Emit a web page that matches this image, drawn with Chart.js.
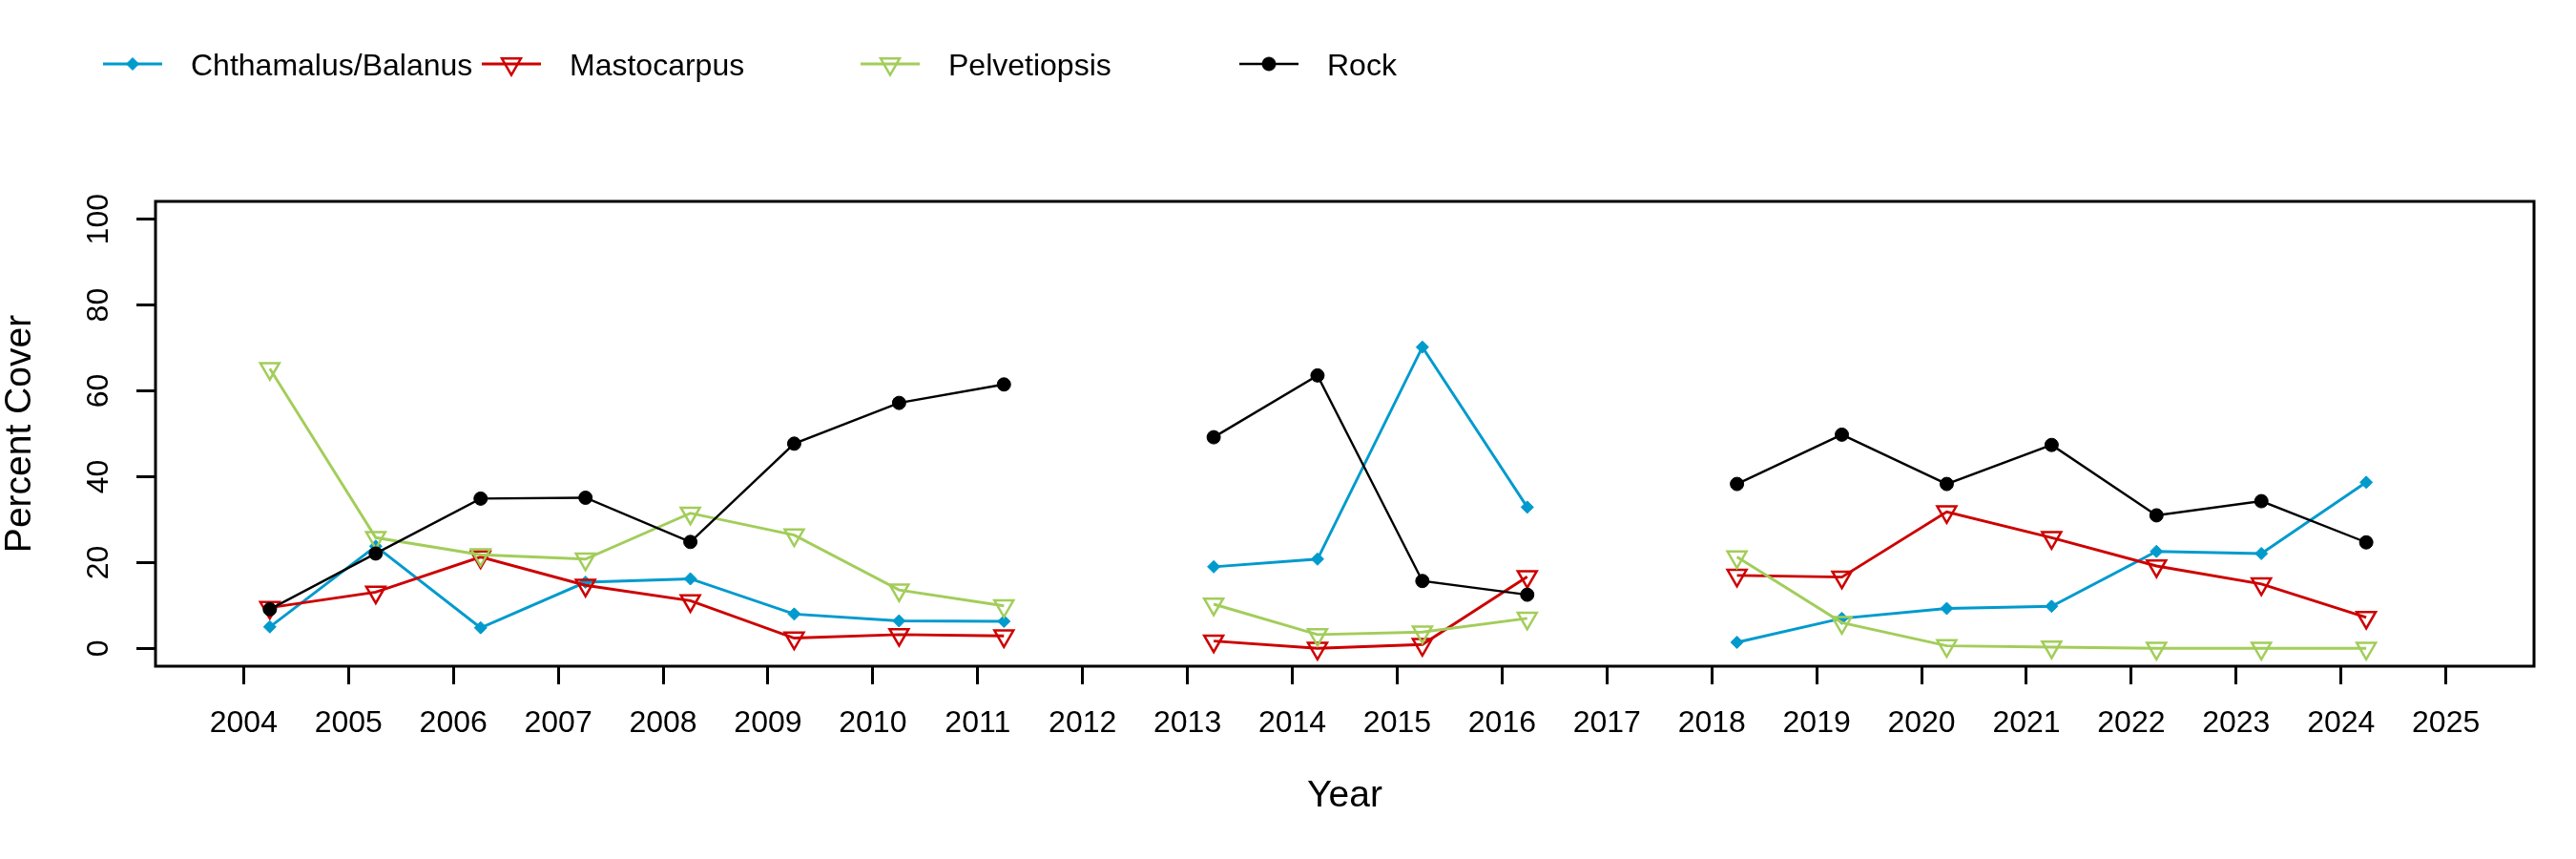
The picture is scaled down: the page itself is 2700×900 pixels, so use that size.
<!DOCTYPE html>
<html>
<head>
<meta charset="utf-8">
<script src="https://cdn.jsdelivr.net/npm/chart.js@4.4.1/dist/chart.umd.min.js"></script>
<style>
  html, body { margin: 0; padding: 0; background: #ffffff; }
  #wrap { width: 2700px; height: 900px; }
</style>
</head>
<body>
<div id="wrap"><canvas id="c" width="2700" height="900"></canvas></div>
<script>
// ---- data ----
const surveyX = [2004.25, 2005.26, 2006.26, 2007.26, 2008.26, 2009.25, 2010.25, 2011.25, 2012.25, 2013.25, 2014.24,
                 2015.24, 2016.24, 2017.24, 2018.24, 2019.24, 2020.24, 2021.24, 2022.24, 2023.24, 2024.24];
const seriesNames = ["Chthamalus/Balanus", "Mastocarpus", "Pelvetiopsis", "Rock"];
const chthamalus  = [5.0, 23.8, 4.8, 15.4, 16.2, 8.0, 6.4, 6.3, null, 19.0, 20.8, 70.2, 32.9, null, 1.4, 7.0, 9.3, 9.8, 22.6, 22.1, 38.7];
const mastocarpus = [9.5, 13.1, 21.3, 14.7, 11.1, 2.4, 3.2, 2.9, null, 1.7, 0.0, 0.9, 16.7, null, 17.0, 16.6, 31.8, 25.8, 19.2, 15.0, 7.2];
const pelvetiopsis= [65.2, 25.8, 21.8, 20.8, 31.5, 26.4, 13.6, 9.9, null, 10.3, 3.2, 3.8, 7.0, null, 21.3, 6.0, 0.6, 0.3, 0.0, 0.0, 0.0];
const rock        = [9.1, 22.1, 34.9, 35.1, 24.8, 47.7, 57.2, 61.5, null, 49.2, 63.6, 15.7, 12.5, null, 38.3, 49.8, 38.3, 47.4, 31.0, 34.3, 24.7];
const xTickValues = [2004, 2005, 2006, 2007, 2008, 2009, 2010, 2011, 2012, 2013, 2014, 2015, 2016, 2017, 2018, 2019, 2020, 2021, 2022, 2023, 2024, 2025];
const yTickValues = [0, 20, 40, 60, 80, 100];
const xTitle = "Year";
const yTitle = "Percent Cover";

const FONT = "'Liberation Sans', Arial, sans-serif";
const toPts = vals => vals.map((v, i) => ({ x: surveyX[i], y: v }));

const styles = [
  { color: '#009ACD', pointStyle: 'rectRot', radius: 6.5, rotation: 0, fill: true, lw: 2.9, pbw: 1 },
  { color: '#CD0000', pointStyle: 'triangle', radius: 11.5, rotation: 180, fill: false, lw: 2.9, pbw: 2.5 },
  { color: '#A2CD5A', pointStyle: 'triangle', radius: 11.5, rotation: 180, fill: false, lw: 2.9, pbw: 2.5 },
  { color: '#000000', pointStyle: 'circle', radius: 7, rotation: 0, fill: true, lw: 2.4, pbw: 1 }
];
const seriesValues = [chthamalus, mastocarpus, pelvetiopsis, rock];

const datasets = seriesValues.map((vals, k) => {
  const s = styles[k];
  return {
    label: seriesNames[k],
    data: toPts(vals),
    borderColor: s.color,
    backgroundColor: s.color,
    borderWidth: s.lw,
    pointStyle: s.pointStyle,
    pointRadius: s.radius,
    pointRotation: s.rotation,
    pointBorderWidth: s.pbw,
    pointBorderColor: s.color,
    pointBackgroundColor: s.fill ? s.color : 'rgba(0,0,0,0)',
    spanGaps: false,
    tension: 0,
    order: 4 - k
  };
});

const boxPlugin = {
  id: 'rbox',
  afterDraw(chart) {
    const { ctx, chartArea: a } = chart;
    ctx.save();
    ctx.strokeStyle = '#000';
    ctx.lineWidth = 3;
    ctx.strokeRect(a.left, a.top, a.right - a.left, a.bottom - a.top);
    ctx.restore();
  }
};

const legendPlugin = {
  id: 'rlegend',
  afterDraw(chart) {
    const { ctx } = chart;
    const startX = 108, stepX = 397, lineLen = 62, textOff = 92, yLine = 67, yText = 70;
    ctx.save();
    chart.data.datasets.forEach((ds, i) => {
      const x0 = startX + i * stepX;
      ctx.strokeStyle = ds.borderColor;
      ctx.lineWidth = ds.borderWidth;
      ctx.beginPath();
      ctx.moveTo(x0, yLine);
      ctx.lineTo(x0 + lineLen, yLine);
      ctx.stroke();
      ctx.fillStyle = ds.pointBackgroundColor;
      ctx.strokeStyle = ds.pointBorderColor;
      ctx.lineWidth = ds.pointBorderWidth;
      Chart.helpers.drawPoint(ctx, {
        pointStyle: ds.pointStyle, radius: ds.pointRadius, rotation: ds.pointRotation, borderWidth: ds.pointBorderWidth
      }, x0 + lineLen / 2, yLine);
      ctx.fillStyle = '#000';
      ctx.font = '32px ' + FONT;
      ctx.textAlign = 'left';
      ctx.textBaseline = 'middle';
      ctx.fillText(ds.label, x0 + textOff, yText);
    });
    ctx.restore();
  }
};

new Chart(document.getElementById('c'), {
  type: 'line',
  data: { datasets },
  plugins: [boxPlugin, legendPlugin],
  options: {
    responsive: false,
    devicePixelRatio: 1,
    animation: false,
    events: [],
    layout: { padding: { top: 211, right: 44, bottom: 0, left: 0 } },
    plugins: { legend: { display: false }, tooltip: { enabled: false }, title: { display: false } },
    scales: {
      x: {
        type: 'linear',
        min: 2003.16,
        max: 2025.84,
        afterBuildTicks: s => { s.ticks = xTickValues.map(v => ({ value: v })); },
        afterFit: s => { s.height = 202; },
        grid: { display: true, drawOnChartArea: false, drawTicks: true, tickLength: 19, tickWidth: 3, tickColor: '#000' },
        border: { display: false },
        ticks: {
          autoSkip: false, maxRotation: 0, minRotation: 0, padding: 22,
          color: '#000', font: { family: FONT, size: 32 },
          callback: v => String(v)
        },
        title: { display: true, text: xTitle, color: '#000', font: { family: FONT, size: 39 }, padding: { top: 0, bottom: 42 } }
      },
      y: {
        type: 'linear',
        min: -4.16,
        max: 104.16,
        afterBuildTicks: s => { s.ticks = yTickValues.map(v => ({ value: v })); },
        afterFit: s => { s.width = 163; },
        grid: { display: true, drawOnChartArea: false, drawTicks: true, tickLength: 20, tickWidth: 3, tickColor: '#000' },
        border: { display: false },
        ticks: {
          autoSkip: false, minRotation: 90, maxRotation: 90, crossAlign: 'center', padding: 12,
          color: '#000', font: { family: FONT, size: 32 },
          callback: v => String(v)
        },
        title: { display: true, text: yTitle, color: '#000', font: { family: FONT, size: 39, lineHeight: 1.1 }, padding: { top: 0, bottom: 0 } }
      }
    }
  }
});
</script>
</body>
</html>
